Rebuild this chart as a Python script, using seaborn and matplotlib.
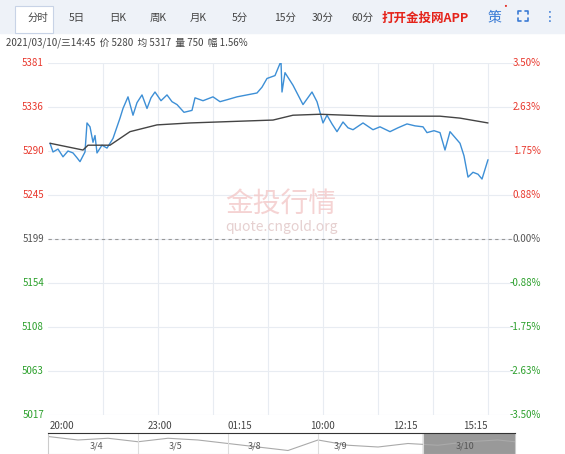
import numpy as np
import pandas as pd
import seaborn as sns
import matplotlib.pyplot as plt
from matplotlib.patches import Rectangle

sns.set_style('white')
plt.rcParams['font.family'] = ['Noto Sans CJK SC', 'DejaVu Sans']

#======data======
px_idx = [2, 5, 10, 15, 20, 25, 29, 32, 37, 39, 42, 45, 47, 49, 54, 59, 65, 68, 72, 75, 80, 85, 89, 94, 99, 103,
          107, 113, 119, 124, 129, 136, 144, 147, 155, 165, 172, 179, 189, 199, 209, 214, 219, 227, 233, 234, 237,
          245, 255, 264, 269, 275, 279, 284, 289, 295, 300, 305, 315, 325, 332, 342, 350, 359, 367, 375, 379, 386,
          392, 397, 402, 407, 412, 416, 420, 425, 430, 434, 440]
price = [5298, 5289, 5292, 5284, 5290, 5288, 5283, 5279, 5289, 5319, 5315, 5299, 5306, 5288, 5296, 5293, 5303,
         5312, 5324, 5334, 5346, 5327, 5340, 5348, 5334, 5345, 5351, 5342, 5348, 5341, 5338, 5330, 5332, 5345,
         5342, 5346, 5341, 5343, 5346, 5348, 5350, 5356, 5365, 5368, 5383, 5351, 5371, 5358, 5338, 5351, 5341,
         5319, 5327, 5318, 5310, 5320, 5314, 5312, 5319, 5312, 5315, 5310, 5314, 5318, 5316, 5315, 5309, 5311,
         5309, 5291, 5310, 5304, 5298, 5285, 5263, 5268, 5266, 5261, 5281]
avg_idx = [2, 35, 40, 62, 82, 109, 142, 225, 245, 272, 325, 392, 412, 440]
avg = [5298, 5291, 5296, 5296, 5310, 5317, 5319, 5322, 5327, 5328, 5326, 5326, 5324, 5319]

y_ticks = [5381, 5336, 5290, 5245, 5199, 5154, 5108, 5063, 5017]
pct_labels = ['3.50%', '2.63%', '1.75%', '0.88%', '0.00%', '-0.88%', '-1.75%', '-2.63%', '-3.50%']
x_ticks = [14, 112, 192, 274, 357, 427]
x_labels = ['20:00', '23:00', '01:15', '10:00', '12:15', '15:15']
tabs = ['分时', '5日', '日K', '周K', '月K', '5分', '15分', '30分', '60分']
tab_x = [38, 77, 118, 158, 198, 240, 285, 323, 362]
nav_days = ['3/4', '3/5', '3/8', '3/9', '3/10']
nav_x = [96, 176, 254, 340, 465]

W, H = 565, 454
fig = plt.figure(figsize=(W / 100, H / 100), dpi=100)
red = '#e8372c'
green = '#2ca02c'
blue = '#3a7bd5'

# top bar
fig.patches.append(Rectangle((0, 1 - 33 / H), 1, 33 / H, transform=fig.transFigure, color='#eef2f8', zorder=0))
fig.patches.append(Rectangle((15 / W, 1 - 33 / H), 38 / W, 27 / H, transform=fig.transFigure,
                             facecolor='white', edgecolor='#c8d3e6', lw=0.8, zorder=1))
for t, x in zip(tabs, tab_x):
    fig.text(x / W, 1 - 18 / H, t, fontsize=7.5, color='#444444', ha='center', va='center')
fig.text(382 / W, 1 - 18 / H, '打开金投网APP', fontsize=9, color='#e5231a', fontweight='bold', va='center')
fig.text(494 / W, 1 - 18 / H, '策', fontsize=10, color=blue, va='center', ha='center')
fig.text(505 / W, 1 - 7 / H, '•', fontsize=7, color='#e5231a', va='center', ha='center')
# fullscreen icon corners
cx, cy, r, k = 523, 16, 5, 3
for sx in (-1, 1):
    for sy in (-1, 1):
        x0, y0 = cx + sx * r, cy + sy * r
        fig.lines.append(plt.Line2D([x0 / W, x0 / W, (x0 - sx * k) / W],
                                    [1 - (y0 - sy * k) / H, 1 - y0 / H, 1 - y0 / H],
                                    transform=fig.transFigure, color=blue, lw=1.2))
fig.text(550 / W, 1 - 17 / H, '⋮', fontsize=10, color=blue, va='center', ha='center', family='DejaVu Sans')
fig.text(6 / W, 1 - 43 / H, '2021/03/10/三14:45  价 5280  均 5317  量 750  幅 1.56%', fontsize=7,
         color='#444444', va='center')

# main chart
ax = fig.add_axes([48 / W, 1 - 415 / H, 467 / W, 352 / H])
sns.lineplot(x=px_idx, y=price, ax=ax, color='#3d8fd6', lw=1.0)
sns.lineplot(x=avg_idx, y=avg, ax=ax, color='#444444', lw=1.0)
ax.set_xlim(0, 467)
ax.set_ylim(5017, 5381)
ax.set_xticks(np.arange(55, 467, 55))
ax.set_xticklabels([])
ax.set_yticks(y_ticks)
ax.set_yticklabels([])
ax.tick_params(length=0)
ax.grid(True, color='#e8ecf2', lw=0.8)
for s in ax.spines.values():
    s.set_visible(False)
ax.axhline(5199, color='#999999', lw=0.8, ls=(0, (3, 3)))
for v, p in zip(y_ticks, pct_labels):
    c = red if v > 5199 else (green if v < 5199 else '#555555')
    ax.text(-4, v, str(v), color=c, fontsize=7, ha='right', va='center', transform=ax.transData)
    ax.text(493, v, p, color=c, fontsize=7, ha='right', va='center', transform=ax.transData)
for xt, xl in zip(x_ticks, x_labels):
    ax.text(xt, 5006, xl, color='#444444', fontsize=7, ha='center', va='center')
ax.text(233, 5236, '金投行情', fontsize=20, color='#f3c9c9', ha='center', va='center', alpha=0.8)
ax.text(233, 5211, 'quote.cngold.org', fontsize=10, color='#e6d0d0', ha='center', va='center')

# navigator
nav = fig.add_axes([48 / W, 0, 467 / W, 21 / H])
nav_line_x = [0, 30, 60, 90, 120, 150, 180, 210, 240, 270, 300, 330, 360, 390, 420, 450, 467]
nav_line_y = [10, 8, 9, 7, 9, 8, 6, 4, 2, 8, 5, 4, 6, 5, 7, 8, 7]
sns.lineplot(x=nav_line_x, y=nav_line_y, ax=nav, color='#aaaaaa', lw=0.8)
nav.add_patch(Rectangle((375, 0), 92, 12, color='#999999', zorder=0))
nav.set_xlim(0, 467)
nav.set_ylim(0, 12)
for d, x in zip(nav_days, nav_x):
    nav.text(x - 48, 4.5, d, fontsize=6.5, color='#555555', ha='center', va='center')
for x in [90, 180, 270, 375]:
    nav.axvline(x, color='#dddddd', lw=0.8)
nav.set_xticks([])
nav.set_yticks([])
for k2, s in nav.spines.items():
    s.set_color('#cccccc' if k2 != 'top' else '#333333')

fig.savefig('out.png', dpi=100)
